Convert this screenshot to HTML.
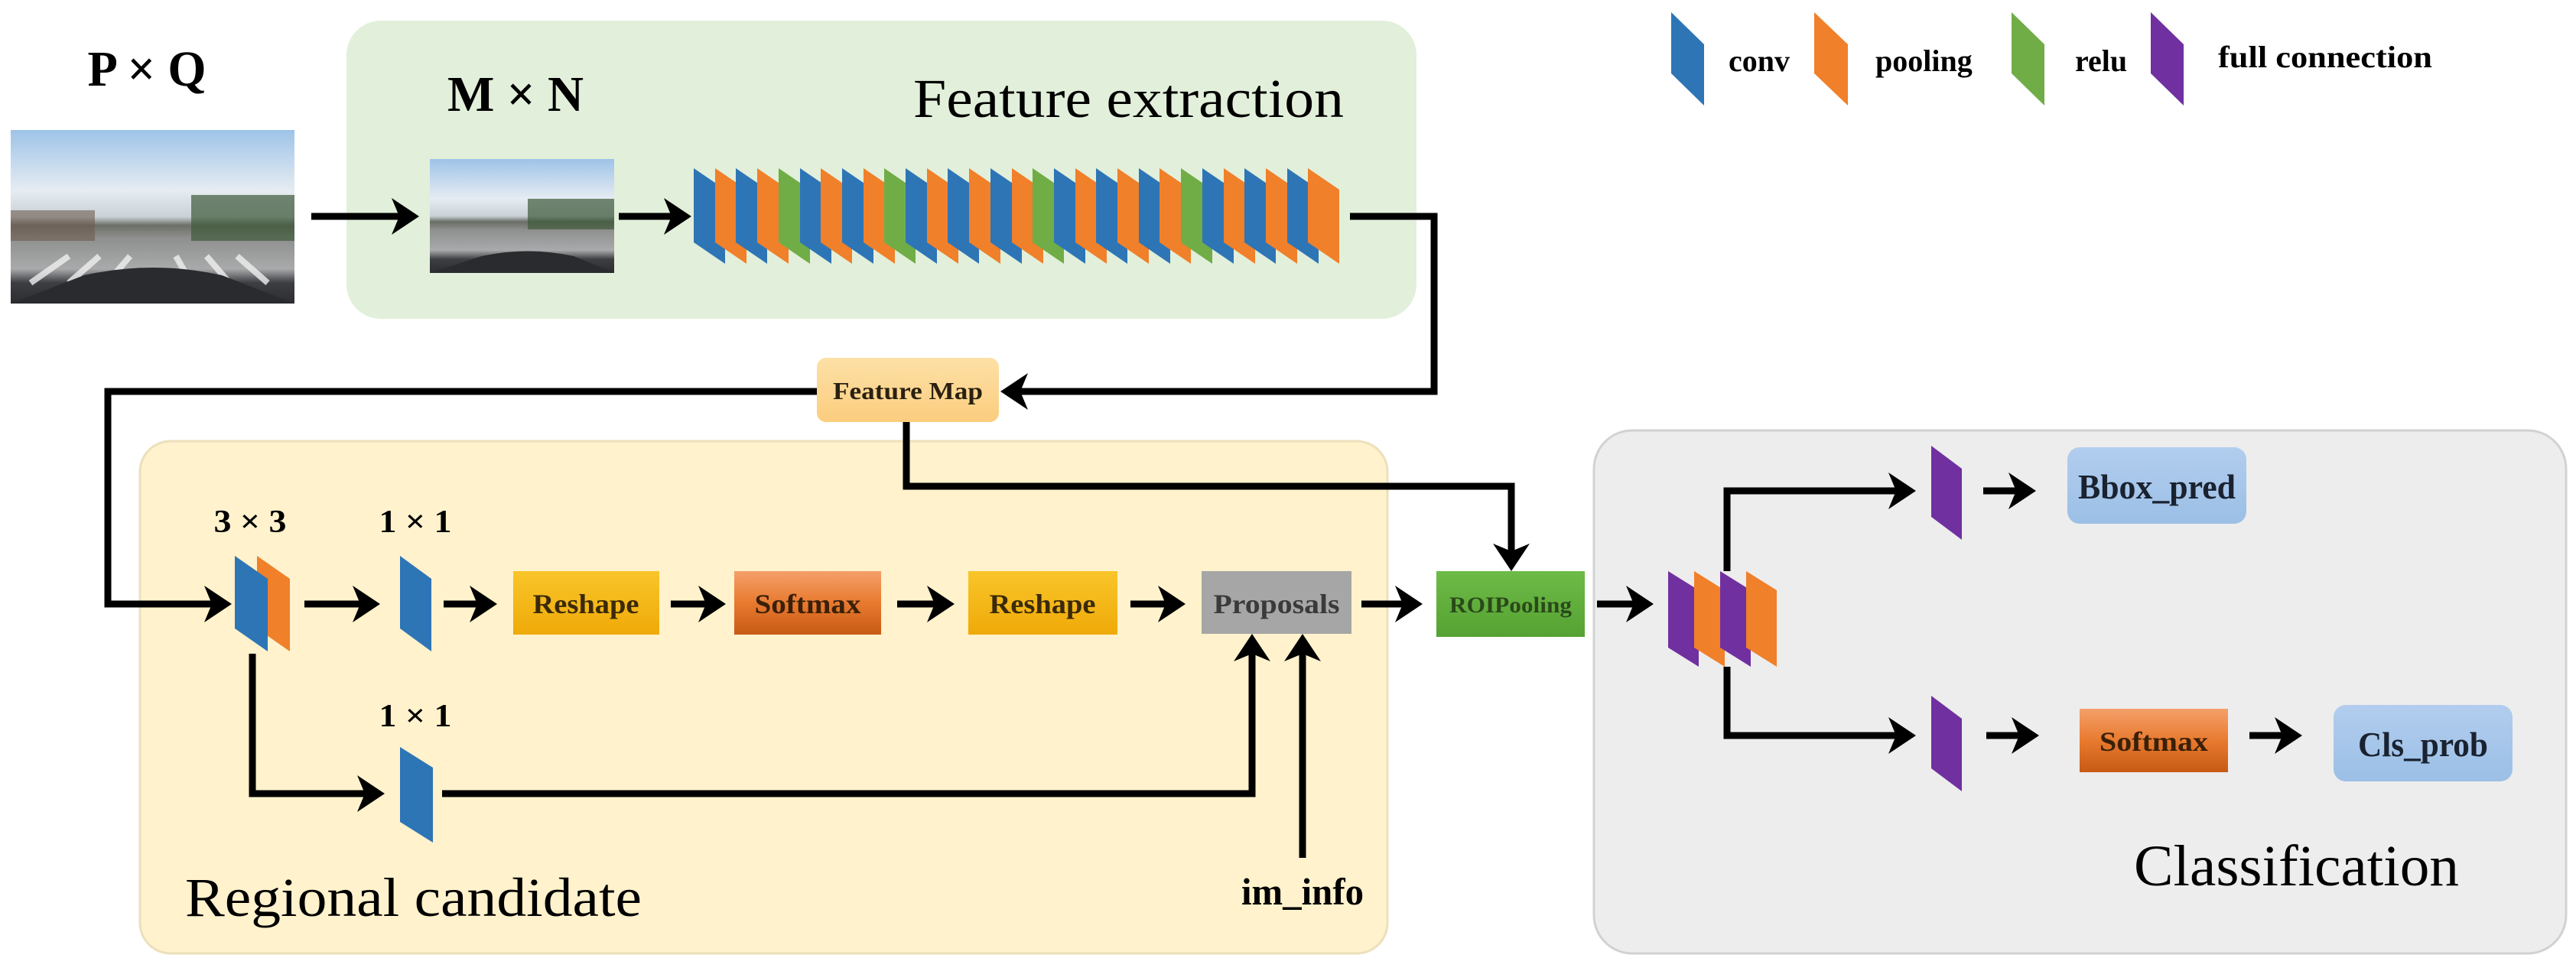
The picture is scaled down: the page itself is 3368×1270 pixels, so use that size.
<!DOCTYPE html>
<html><head><meta charset="utf-8"><style>
html,body{margin:0;padding:0;background:#fff;}
svg{display:block;}
text{font-family:"Liberation Serif",serif;}
</style></head><body>
<svg width="3368" height="1270" viewBox="0 0 3368 1270" xmlns="http://www.w3.org/2000/svg" xmlns:xlink="http://www.w3.org/1999/xlink">
<defs>
<linearGradient id="resh" x1="0" y1="0" x2="0" y2="1"><stop offset="0" stop-color="#f9c52a"/><stop offset="1" stop-color="#efaa08"/></linearGradient>
<linearGradient id="soft" x1="0" y1="0" x2="0" y2="1"><stop offset="0" stop-color="#f4a06a"/><stop offset="0.5" stop-color="#e87a30"/><stop offset="1" stop-color="#c75a14"/></linearGradient>
<linearGradient id="roi" x1="0" y1="0" x2="0" y2="1"><stop offset="0" stop-color="#6fbb48"/><stop offset="1" stop-color="#55a232"/></linearGradient>
<linearGradient id="blu" x1="0" y1="0" x2="0" y2="1"><stop offset="0" stop-color="#b2cdee"/><stop offset="1" stop-color="#9bbfe6"/></linearGradient>
<linearGradient id="fm" x1="0" y1="0" x2="0" y2="1"><stop offset="0" stop-color="#fde0a6"/><stop offset="1" stop-color="#fbcd7e"/></linearGradient>
<linearGradient id="sky" x1="0" y1="0" x2="0" y2="1"><stop offset="0" stop-color="#9ec3e8"/><stop offset="0.35" stop-color="#e6ecf2"/><stop offset="0.5" stop-color="#c9d2d6"/><stop offset="0.55" stop-color="#6a6e66"/><stop offset="0.62" stop-color="#8e8f8e"/><stop offset="0.8" stop-color="#a9aaab"/><stop offset="0.88" stop-color="#3c3e42"/><stop offset="1" stop-color="#2c2d30"/></linearGradient>
<polygon id="sl" points="0,220 41,248 41,345 0,317"/>
</defs>

<!-- panels -->
<rect x="453" y="27" width="1399" height="390" rx="45" fill="#e2efda"/>
<rect x="183" y="577" width="1631" height="670" rx="40" fill="#fff2cc" stroke="#ece0bc" stroke-width="3"/>
<rect x="2084" y="563" width="1271" height="684" rx="50" fill="#ededed" stroke="#d2d2d2" stroke-width="3"/>

<!-- photos -->
<rect x="14" y="170" width="371" height="227" fill="url(#sky)"/>
<rect x="14" y="275" width="110" height="40" fill="#6e5a50" opacity="0.6"/>
<rect x="250" y="255" width="135" height="60" fill="#3f5a3a" opacity="0.7"/>
<g stroke="#f0f0f0" stroke-width="8" opacity="0.8"><line x1="40" y1="370" x2="90" y2="335"/><line x1="90" y1="370" x2="130" y2="335"/><line x1="140" y1="370" x2="170" y2="335"/><line x1="250" y1="370" x2="230" y2="335"/><line x1="300" y1="370" x2="270" y2="335"/><line x1="350" y1="370" x2="310" y2="335"/></g>
<path d="M110 360 Q200 340 290 360 L385 397 L14 397 Z" fill="#2a2b2e"/>
<rect x="562" y="208" width="241" height="149" fill="url(#sky)"/>
<rect x="690" y="260" width="113" height="40" fill="#3f5a3a" opacity="0.7"/>
<path d="M630 335 Q690 322 750 335 L803 357 L562 357 Z" fill="#2a2b2e"/>

<!-- text labels top -->
<text x="192" y="112" font-size="66" font-weight="bold" text-anchor="middle" textLength="155" lengthAdjust="spacingAndGlyphs">P × Q</text>
<text x="674" y="145" font-size="66" font-weight="bold" text-anchor="middle" textLength="178" lengthAdjust="spacingAndGlyphs">M × N</text>
<text x="1194" y="153" font-size="72" textLength="563" lengthAdjust="spacingAndGlyphs">Feature extraction</text>

<!-- legend -->
<polygon points="2185,16 2228,58 2228,138 2185,96" fill="#2e75b6"/>
<text x="2260" y="93" font-size="40" font-weight="bold">conv</text>
<polygon points="2372,16 2416,58 2416,138 2372,96" fill="#f0802a"/>
<text x="2452" y="93" font-size="40" font-weight="bold">pooling</text>
<polygon points="2630,16 2673,58 2673,138 2630,96" fill="#70ad47"/>
<text x="2713" y="93" font-size="40" font-weight="bold">relu</text>
<polygon points="2812,16 2855,58 2855,138 2812,96" fill="#7030a0"/>
<text x="2900" y="88" font-size="40" font-weight="bold" textLength="280" lengthAdjust="spacingAndGlyphs">full connection</text>

<!-- feature stack BOBOGBOBOGBOBOBOGBOBOBOGBOBOBO -->
<use xlink:href="#sl" x="907" fill="#2e75b6"/>
<use xlink:href="#sl" x="935" fill="#f0802a"/>
<use xlink:href="#sl" x="962" fill="#2e75b6"/>
<use xlink:href="#sl" x="990" fill="#f0802a"/>
<use xlink:href="#sl" x="1018" fill="#70ad47"/>
<use xlink:href="#sl" x="1046" fill="#2e75b6"/>
<use xlink:href="#sl" x="1073" fill="#f0802a"/>
<use xlink:href="#sl" x="1101" fill="#2e75b6"/>
<use xlink:href="#sl" x="1129" fill="#f0802a"/>
<use xlink:href="#sl" x="1156" fill="#70ad47"/>
<use xlink:href="#sl" x="1184" fill="#2e75b6"/>
<use xlink:href="#sl" x="1212" fill="#f0802a"/>
<use xlink:href="#sl" x="1239" fill="#2e75b6"/>
<use xlink:href="#sl" x="1267" fill="#f0802a"/>
<use xlink:href="#sl" x="1295" fill="#2e75b6"/>
<use xlink:href="#sl" x="1323" fill="#f0802a"/>
<use xlink:href="#sl" x="1350" fill="#70ad47"/>
<use xlink:href="#sl" x="1378" fill="#2e75b6"/>
<use xlink:href="#sl" x="1406" fill="#f0802a"/>
<use xlink:href="#sl" x="1433" fill="#2e75b6"/>
<use xlink:href="#sl" x="1461" fill="#f0802a"/>
<use xlink:href="#sl" x="1489" fill="#2e75b6"/>
<use xlink:href="#sl" x="1516" fill="#f0802a"/>
<use xlink:href="#sl" x="1544" fill="#70ad47"/>
<use xlink:href="#sl" x="1572" fill="#2e75b6"/>
<use xlink:href="#sl" x="1600" fill="#f0802a"/>
<use xlink:href="#sl" x="1627" fill="#2e75b6"/>
<use xlink:href="#sl" x="1655" fill="#f0802a"/>
<use xlink:href="#sl" x="1683" fill="#2e75b6"/>
<use xlink:href="#sl" x="1710" fill="#f0802a"/>

<!-- connectors -->
<g fill="none" stroke="#000" stroke-width="9" stroke-linejoin="miter">
<line x1="407" y1="283" x2="525" y2="283"/>
<line x1="809" y1="283" x2="880" y2="283"/>
<polyline points="1765,283 1875,283 1875,512 1330,512"/>
<polyline points="1068,512 141,512 141,790 280,790"/>
<polyline points="1185,552 1185,636 1976,636 1976,725"/>
<line x1="398" y1="790" x2="475" y2="790"/>
<line x1="580" y1="790" x2="628" y2="790"/>
<line x1="877" y1="790" x2="927" y2="790"/>
<line x1="1173" y1="790" x2="1226" y2="790"/>
<line x1="1478" y1="790" x2="1528" y2="790"/>
<line x1="1780" y1="790" x2="1838" y2="790"/>
<line x1="2088" y1="790" x2="2140" y2="790"/>
<polyline points="330,855 330,1038 480,1038"/>
<polyline points="578,1038 1637,1038 1637,850"/>
<line x1="1703" y1="1122" x2="1703" y2="850"/>
<polyline points="2258,747 2258,642 2482,642"/>
<polyline points="2258,872 2258,962 2482,962"/>
<line x1="2593" y1="642" x2="2640" y2="642"/>
<line x1="2597" y1="962" x2="2644" y2="962"/>
<line x1="2941" y1="962" x2="2988" y2="962"/>
</g>
<g fill="#000">
<polygon points="548,283 512,259 522,283 512,307"/>
<polygon points="904,283 868,259 878,283 868,307"/>
<polygon points="303,790 267,766 277,790 267,814"/>
<polygon points="497,790 461,766 471,790 461,814"/>
<polygon points="650,790 614,766 624,790 614,814"/>
<polygon points="949,790 913,766 923,790 913,814"/>
<polygon points="1248,790 1212,766 1222,790 1212,814"/>
<polygon points="1550,790 1514,766 1524,790 1514,814"/>
<polygon points="1860,790 1824,766 1834,790 1824,814"/>
<polygon points="2162,790 2126,766 2136,790 2126,814"/>
<polygon points="503,1038 467,1014 477,1038 467,1062"/>
<polygon points="2505,642 2469,618 2479,642 2469,666"/>
<polygon points="2505,962 2469,938 2479,962 2469,986"/>
<polygon points="2662,642 2626,618 2636,642 2626,666"/>
<polygon points="2666,962 2630,938 2640,962 2630,986"/>
<polygon points="3010,962 2974,938 2984,962 2974,986"/>
<polygon points="1308,512 1344,488 1334,512 1344,536"/>
<polygon points="1976,747 1952,711 1976,721 2000,711"/>
<polygon points="1637,829 1613,865 1637,855 1661,865"/>
<polygon points="1703,829 1679,865 1703,855 1727,865"/>
</g>

<!-- feature map -->
<rect x="1068" y="468" width="238" height="84" rx="12" fill="url(#fm)"/>
<text x="1187" y="522" font-size="32" font-weight="bold" text-anchor="middle" fill="#2a2010" textLength="196" lengthAdjust="spacingAndGlyphs">Feature Map</text>

<!-- RPN slices -->
<text x="327" y="696" font-size="42" font-weight="bold" text-anchor="middle" textLength="95" lengthAdjust="spacingAndGlyphs">3 × 3</text>
<text x="543" y="696" font-size="42" font-weight="bold" text-anchor="middle" textLength="95" lengthAdjust="spacingAndGlyphs">1 × 1</text>
<text x="543" y="950" font-size="42" font-weight="bold" text-anchor="middle" textLength="95" lengthAdjust="spacingAndGlyphs">1 × 1</text>
<polygon points="336,727 379,757 379,852 336,822" fill="#f0802a"/>
<polygon points="307,727 350,757 350,852 307,822" fill="#2e75b6"/>
<polygon points="523,727 564,757 564,852 523,822" fill="#2e75b6"/>
<polygon points="523,977 566,1004 566,1102 523,1075" fill="#2e75b6"/>

<!-- boxes row -->
<rect x="671" y="747" width="191" height="83" fill="url(#resh)"/>
<text x="766" y="802" font-size="36" font-weight="bold" text-anchor="middle" fill="#3a2a08" textLength="139" lengthAdjust="spacingAndGlyphs">Reshape</text>
<rect x="960" y="747" width="192" height="83" fill="url(#soft)"/>
<text x="1056" y="802" font-size="36" font-weight="bold" text-anchor="middle" fill="#3a2008" textLength="139" lengthAdjust="spacingAndGlyphs">Softmax</text>
<rect x="1266" y="747" width="195" height="83" fill="url(#resh)"/>
<text x="1363" y="802" font-size="36" font-weight="bold" text-anchor="middle" fill="#3a2a08" textLength="139" lengthAdjust="spacingAndGlyphs">Reshape</text>
<rect x="1571" y="747" width="196" height="82" fill="#a6a6a6"/>
<text x="1669" y="802" font-size="36" font-weight="bold" text-anchor="middle" fill="#3a3a3a" textLength="165" lengthAdjust="spacingAndGlyphs">Proposals</text>
<rect x="1878" y="747" width="194" height="86" fill="url(#roi)"/>
<text x="1975" y="801" font-size="30" font-weight="bold" text-anchor="middle" fill="#2a4a1a" textLength="160" lengthAdjust="spacingAndGlyphs">ROIPooling</text>

<text x="1703" y="1183" font-size="50" font-weight="bold" text-anchor="middle" textLength="160" lengthAdjust="spacingAndGlyphs">im_info</text>
<text x="242" y="1198" font-size="72" textLength="597" lengthAdjust="spacingAndGlyphs">Regional candidate</text>

<!-- classification -->
<polygon points="2181,747 2221,772 2221,872 2181,847" fill="#7030a0"/>
<polygon points="2215,747 2255,772 2255,872 2215,847" fill="#f0802a"/>
<polygon points="2249,747 2289,772 2289,872 2249,847" fill="#7030a0"/>
<polygon points="2283,747 2323,772 2323,872 2283,847" fill="#f0802a"/>
<polygon points="2525,583 2565,613 2565,706 2525,676" fill="#7030a0"/>
<polygon points="2525,910 2565,940 2565,1035 2525,1005" fill="#7030a0"/>
<rect x="2703" y="585" width="234" height="100" rx="16" fill="url(#blu)"/>
<text x="2820" y="652" font-size="46" font-weight="bold" text-anchor="middle" fill="#1a2230" textLength="206" lengthAdjust="spacingAndGlyphs">Bbox_pred</text>
<rect x="2719" y="927" width="194" height="83" fill="url(#soft)"/>
<text x="2816" y="982" font-size="36" font-weight="bold" text-anchor="middle" fill="#3a2008" textLength="142" lengthAdjust="spacingAndGlyphs">Softmax</text>
<rect x="3051" y="922" width="234" height="100" rx="16" fill="url(#blu)"/>
<text x="3168" y="989" font-size="46" font-weight="bold" text-anchor="middle" fill="#1a2230" textLength="170" lengthAdjust="spacingAndGlyphs">Cls_prob</text>
<text x="2790" y="1158" font-size="76" textLength="425" lengthAdjust="spacingAndGlyphs">Classification</text>
</svg>
</body></html>
